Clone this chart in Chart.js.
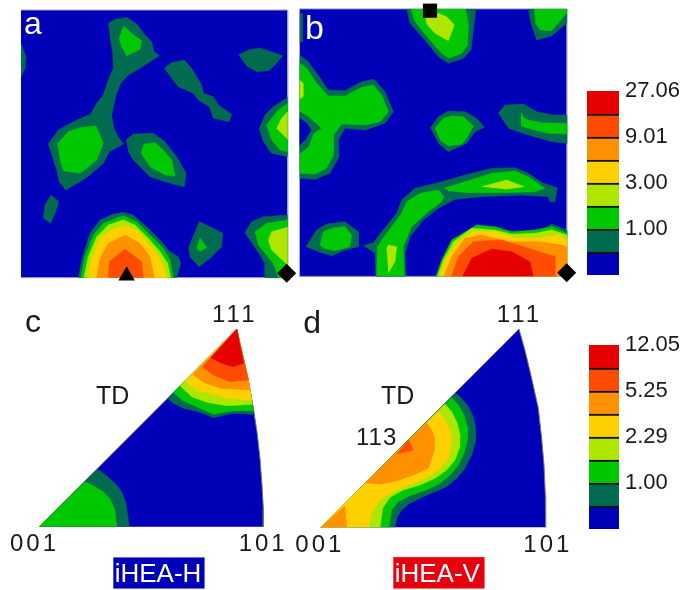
<!DOCTYPE html>
<html>
<head>
<meta charset="utf-8">
<title>iHEA texture maps</title>
<script src="https://cdn.jsdelivr.net/npm/chart.js@4/dist/chart.umd.min.js"></script>
<style>
    body { margin: 0; background: #fff; width: 683px; height: 590px; overflow: hidden; }
    canvas { position: absolute; filter: blur(0.5px); }
    #panelA { left: 0; top: 0; }
    #panelB { left: 295px; top: 0; }
    #panelC { left: 0; top: 295px; }
    #panelD { left: 290px; top: 295px; }
    #barTop { left: 575px; top: 80px; }
    #barBottom { left: 575px; top: 335px; }
</style>
</head>
<body>
<canvas id="panelA" width="300" height="290"></canvas>
<canvas id="panelB" width="290" height="290"></canvas>
<canvas id="panelC" width="290" height="295"></canvas>
<canvas id="panelD" width="290" height="295"></canvas>
<canvas id="barTop" width="108" height="210"></canvas>
<canvas id="barBottom" width="108" height="210"></canvas>
<script>
// colour of each intensity level, lowest first
const BLUE = '#0000b8', DARK = '#006b4f', GREEN = '#00c800', LIME = '#aee600';
const YELLOW = '#ffd000', ORANGE = '#ff9000', REDORANGE = '#ff4c00', RED = '#e60000';
const levelColors = [BLUE, DARK, GREEN, LIME, YELLOW, ORANGE, REDORANGE, RED];

// colour bars
const topBarValues = [1, 1, 1, 1, 1, 1, 1, 1];
const topBarTicks = ['', '', '1.00', '', '3.00', '', '9.01', '', '27.06'];
const bottomBarValues = [1, 1, 1, 1, 1, 1, 1, 1];
const bottomBarTicks = ['', '', '1.00', '', '2.29', '', '5.25', '', '12.05'];

// contour outlines, map units are 1/3 of a pixel
// PANEL A
const aBlue = [[[63,30],[863,30],[863,833],[63,833]]];
const aDark = [
    [[63,130],[78,170],[75,205],[63,232]],
    [[325,70],[345,58],[380,52],[410,72],[435,105],[455,125],[462,155],[478,167],[455,182],[420,205],[385,225],[362,250],[348,285],[335,345],[342,385],[355,410],[370,432],[328,455],[310,490],[270,525],[240,545],[197,570],[178,545],[170,510],[145,432],[175,390],[230,360],[272,343],[290,310],[310,285],[325,240],[340,205],[338,160],[330,110]],
    [[493,205],[515,188],[552,180],[575,205],[605,255],[610,280],[640,290],[655,315],[695,343],[688,365],[640,355],[628,320],[595,300],[580,280],[535,260],[515,235]],
    [[716,165],[745,150],[780,144],[848,167],[825,195],[805,212],[770,215],[740,198]],
    [[130,655],[135,615],[153,585],[176,605],[165,640],[152,670]],
    [[863,292],[820,320],[795,345],[778,385],[790,425],[815,460],[863,470]],
    [[378,420],[400,402],[460,400],[495,425],[530,470],[558,520],[553,560],[510,550],[450,530],[400,480],[385,455]],
    [[235,833],[248,770],[270,700],[300,660],[340,642],[370,637],[400,645],[440,680],[480,720],[510,755],[535,770],[542,790],[530,833]],
    [[863,645],[790,650],[755,665],[735,698],[770,750],[795,790],[795,833],[863,833]],
    [[565,745],[598,665],[640,685],[668,700],[665,740],[630,775],[597,800],[570,770]]
];
const aGreen = [
    [[370,78],[395,100],[425,122],[420,148],[380,167],[365,140],[357,115]],
    [[172,432],[205,395],[245,382],[288,378],[310,430],[290,480],[240,520],[190,512],[178,470]],
    [[863,310],[830,335],[800,375],[815,420],[840,450],[863,455]],
    [[423,460],[432,432],[465,428],[490,450],[515,480],[525,528],[495,525],[450,500]],
    [[243,833],[255,770],[280,705],[310,670],[370,647],[410,665],[450,705],[490,745],[510,780],[520,833]],
    [[863,660],[800,670],[765,695],[775,735],[820,790],[835,833],[863,833]],
    [[590,745],[600,715],[620,742],[600,755]]
];
const aLime = [
    [[863,335],[845,355],[830,385],[863,418]],
    [[252,833],[265,770],[290,710],[325,675],[370,660],[405,675],[445,715],[480,755],[503,790],[512,833]],
    [[863,682],[815,695],[805,720],[815,750],[863,795]]
];
const aYellow = [[[265,833],[275,775],[300,715],[335,690],[375,678],[410,690],[445,730],[475,765],[490,800],[500,833]]];
const aOrange = [[[290,833],[300,775],[325,730],[375,705],[420,730],[450,770],[463,833]]];
const aRedOrange = [[[325,833],[328,785],[375,747],[425,785],[430,833]]];

// PANEL B
const bBlue = [[[14,27],[815,27],[815,829],[14,829]]];
const bDark = [
    [[335,27],[345,70],[385,115],[430,170],[460,190],[505,175],[528,150],[535,90],[543,27]],
    [[700,27],[708,70],[725,120],[770,108],[815,70],[815,27]],
    [[14,40],[22,40],[22,125],[14,128]],
    [[14,165],[40,185],[65,220],[100,270],[150,272],[200,245],[237,238],[270,275],[295,335],[270,370],[210,390],[150,385],[130,420],[132,470],[105,520],[60,538],[14,535]],
    [[406,383],[430,350],[460,333],[510,335],[545,355],[568,382],[540,395],[515,430],[460,455],[430,430]],
    [[610,340],[630,315],[685,312],[725,335],[775,345],[815,345],[815,430],[770,425],[700,405],[640,385]],
    [[205,737],[235,728],[260,695],[305,640],[320,600],[360,565],[440,545],[510,525],[590,505],[660,503],[700,520],[745,550],[787,563],[780,605],[765,605],[760,590],[680,585],[560,590],[480,598],[430,625],[385,660],[345,710],[330,760],[333,829],[243,829],[240,760]],
    [[33,740],[65,690],[95,672],[150,665],[190,695],[190,740],[150,750],[110,767],[70,755]],
    [[740,690],[770,672],[815,690],[815,710],[770,690]]
];
const bGreen = [
    [[348,27],[360,65],[400,115],[440,160],[462,175],[500,160],[518,135],[520,75],[512,27]],
    [[718,27],[722,70],[735,90],[770,92],[815,40],[815,27]],
    [[14,190],[35,205],[65,250],[100,288],[150,288],[200,262],[235,255],[260,285],[280,335],[255,365],[210,375],[140,372],[115,405],[115,465],[95,505],[60,522],[14,520]],
    [[420,385],[445,355],[470,348],[505,350],[535,378],[515,415],[500,433],[460,438],[435,420]],
    [[678,338],[690,358],[740,368],[815,370],[815,402],[760,400],[710,388],[678,378]],
    [[245,829],[247,740],[275,700],[320,640],[335,605],[375,580],[430,570],[447,590],[440,605],[400,635],[350,680],[325,740],[328,829]],
    [[447,565],[510,545],[590,520],[660,513],[700,530],[750,565],[720,575],[620,578],[520,578],[460,572]],
    [[75,735],[85,695],[115,683],[150,680],[170,705],[165,740],[120,752],[85,745]],
    [[423,829],[440,780],[470,720],[520,690],[545,675],[600,680],[650,695],[720,690],[770,680],[815,700],[815,829]]
];
const bHoleDark = [[[14,335],[40,350],[78,385],[55,400],[40,440],[14,460]]];
const bHoleBlue = [[[14,355],[35,370],[48,390],[30,420],[14,435]]];
const bLime = [
    [[392,50],[395,72],[420,100],[460,122],[478,75],[455,50],[430,40]],
    [[14,240],[24,250],[24,290],[14,297]],
    [[560,560],[635,540],[687,560],[630,568]],
    [[275,745],[280,735],[305,740],[300,785],[280,818]],
    [[428,829],[445,780],[475,725],[530,685],[600,690],[650,703],[720,700],[770,690],[815,705],[815,829]]
];
const bYellow = [[[435,829],[450,780],[490,725],[540,695],[600,695],[660,715],[730,715],[790,705],[815,720],[815,829]]];
const bOrange = [[[447,829],[470,770],[510,715],[560,705],[640,725],[730,725],[800,735],[815,740],[815,829]]];
const bRedOrange = [[[470,829],[490,770],[535,725],[620,720],[700,745],[780,770],[780,829]]];
const bRed = [[[503,829],[530,775],[590,747],[650,755],[705,785],[715,829]]];

// PANEL C
const cBlue = [[[118,695],[710,102],[730,190],[745,255],[760,340],[771,410],[780,490],[786,570],[790,640],[790,695]]];
const cDark = [
    [[118,695],[293,522],[320,543],[345,565],[365,590],[378,625],[388,695]],
    [[503,310],[520,325],[550,340],[600,352],[640,368],[700,355],[762,358],[745,255],[730,190],[710,102]]
];
const cGreen = [
    [[118,695],[255,560],[285,575],[310,590],[330,612],[345,645],[350,695]],
    [[520,292],[545,315],[600,340],[640,358],[700,347],[760,347],[745,255],[730,190],[710,102]]
];
const cLime = [[[540,272],[575,305],[620,322],[680,332],[757,328],[745,255],[730,190],[710,102]]];
const cYellow = [[[555,258],[590,285],[630,295],[680,310],[755,315],[745,255],[730,190],[710,102]]];
const cOrange = [[[578,238],[610,262],[660,280],[750,285],[745,255],[730,190],[710,102]]];
const cRedOrange = [[[607,215],[640,240],[690,260],[745,255],[730,190],[710,102]]];
const cRed = [[[632,188],[665,205],[700,215],[731,205],[710,102]]];

// PANEL D
const dBlue = [[[92,697],[687,102],[706,170],[725,250],[745,340],[755,430],[762,510],[766,600],[767,697]]];
const dDark = [[[92,697],[497,295],[515,310],[535,335],[550,365],[557,400],[556,440],[545,480],[525,520],[500,550],[470,575],[430,592],[390,610],[355,628],[335,645],[322,665],[315,697]]];
const dGreen = [[[92,697],[485,308],[505,330],[522,360],[532,395],[532,435],[522,475],[505,510],[480,540],[450,565],[410,585],[360,602],[325,620],[305,645],[297,697]]];
const dLime = [[[92,697],[465,327],[485,350],[502,385],[510,420],[508,460],[495,495],[470,525],[435,550],[390,570],[340,585],[300,607],[278,640],[270,697]]];
const dYellow = [[[92,697],[445,350],[465,375],[480,405],[485,440],[475,490],[450,520],[415,545],[370,565],[320,585],[275,610],[245,650],[235,697]]];
const dOrange = [
    [[225,564],[410,383],[425,405],[435,430],[432,470],[415,520],[370,540],[320,558],[270,568]],
    [[92,697],[165,632],[170,697]]
];
const dRedOrange = [[[355,434],[370,465],[320,477]]];

// name tags under the triangles
const cTag = [[340,788],[612,788],[612,880],[340,880]];
const dTag = [[310,787],[582,787],[582,880],[310,880]];

// pole markers
const aMarkers = [{ x: 380, y: 827, style: 'triangle', size: 9.5 }, { x: 860, y: 820, style: 'rectRot', size: 9.5 }];
const bMarkers = [{ x: 405, y: 32, style: 'rect', size: 10 }, { x: 815, y: 818, style: 'rectRot', size: 9.5 }];

// text on each panel, x and y in map units, y is the baseline
const aLabels = [{ text: 'a', x: 72, y: 102, size: 32, color: '#fff' }];
const bLabels = [{ text: 'b', x: 30, y: 116, size: 34, color: '#fff' }];
const cLabels = [
    { text: 'c', x: 75, y: 112, size: 32 },
    { text: '111', x: 636, y: 80, size: 24, gap: 3 },
    { text: 'TD', x: 288, y: 328, size: 25 },
    { text: '001', x: 30, y: 768, size: 24, gap: 3 },
    { text: '101', x: 716, y: 768, size: 24, gap: 3 },
    { text: 'iHEA-H', x: 344, y: 862, size: 26, color: '#fff' }
];
const dLabels = [
    { text: 'd', x: 40, y: 113, size: 32 },
    { text: '111', x: 620, y: 80, size: 24, gap: 3 },
    { text: 'TD', x: 273, y: 328, size: 25 },
    { text: '113', x: 198, y: 449, size: 24, gap: 1 },
    { text: '001', x: 16, y: 770, size: 24, gap: 3 },
    { text: '101', x: 700, y: 772, size: 24, gap: 3 },
    { text: 'iHEA-V', x: 314, y: 862, size: 26, color: '#fff' }
];

// writes the panel text through the scales of the chart
const panelText = {
    id: 'panelText',
    afterDatasetsDraw(chart, args, opts) {
        const ctx = chart.ctx;
        ctx.save();
        ctx.textBaseline = 'alphabetic';
        opts.items.forEach(item => {
            ctx.font = item.size + 'px "Liberation Sans", Arial, sans-serif';
            ctx.letterSpacing = (item.gap || 0) + 'px';
            ctx.fillStyle = item.color || '#1a1a1a';
            ctx.fillText(item.text, chart.scales.x.getPixelForValue(item.x), chart.scales.y.getPixelForValue(item.y));
        });
        ctx.restore();
    }
};

function toPoints(outline) {
    return outline.map(p => ({ x: p[0], y: p[1] }));
}

// one filled dataset for every outline, in the order the layers are given
function makeLayers(layers) {
    const datasets = [];
    layers.forEach(layer => {
        layer.outlines.forEach(outline => {
            datasets.push({
                data: toPoints(outline),
                showLine: true,
                fill: 'shape',
                backgroundColor: layer.color,
                borderColor: layer.edge || layer.color,
                borderWidth: layer.edge ? 1 : 0.5,
                pointRadius: 0,
                tension: 0
            });
        });
    });
    return datasets;
}

function markerDataset(markers) {
    return {
        data: markers.map(m => ({ x: m.x, y: m.y })),
        showLine: false,
        pointStyle: markers.map(m => m.style),
        pointRadius: markers.map(m => m.size),
        pointBackgroundColor: '#000',
        pointBorderWidth: 0,
        clip: false
    };
}

function drawPanel(id, layers, markers, labels) {
    const canvas = document.getElementById(id);
    const datasets = makeLayers(layers);
    if (markers) datasets.push(markerDataset(markers));
    // chart.js paints the lowest order last, so the last layer has to get the lowest
    datasets.forEach((d, i) => { d.order = datasets.length - i; });
    new Chart(canvas, {
        type: 'scatter',
        data: { datasets: datasets },
        options: {
            responsive: false,
            animation: false,
            layout: { padding: 0, autoPadding: false },
            scales: {
                x: { type: 'linear', display: false, min: 0, max: canvas.width * 3 },
                y: { type: 'linear', display: false, min: 0, max: canvas.height * 3, reverse: true }
            },
            plugins: {
                legend: { display: false },
                tooltip: { enabled: false },
                panelText: { items: labels }
            }
        },
        plugins: [panelText]
    });
}

// the colour bars are stacked bars with their labels on a right hand axis
function drawBar(id, values, ticks, padLeft, padTop, padBottom) {
    new Chart(document.getElementById(id), {
        type: 'bar',
        data: {
            labels: [''],
            datasets: values.map((v, i) => ({
                data: [v],
                backgroundColor: levelColors[i],
                borderColor: '#111',
                borderWidth: { top: i < values.length - 1 ? 2 : 0 },
                borderSkipped: false,
                barPercentage: 1,
                categoryPercentage: 1
            }))
        },
        options: {
            responsive: false,
            animation: false,
            layout: { padding: { left: padLeft, top: padTop, bottom: padBottom, right: 0 }, autoPadding: false },
            scales: {
                x: { display: false, stacked: true },
                y: {
                    stacked: true,
                    position: 'right',
                    min: 0,
                    max: values.length,
                    // no room kept for the half labels, the bar runs the full height
                    afterFit: scale => {
                        scale.width = 64;
                        scale.paddingTop = 0;
                        scale.paddingBottom = 0;
                    },
                    grid: { display: false, drawTicks: false },
                    border: { display: false },
                    ticks: {
                        stepSize: 1,
                        autoSkip: false,
                        padding: 6,
                        color: '#1a1a1a',
                        font: { size: 22, family: '"Liberation Sans", Arial, sans-serif' },
                        callback: value => ticks[value]
                    }
                }
            },
            plugins: { legend: { display: false }, tooltip: { enabled: false } }
        }
    });
}

drawPanel('panelA', [
    { color: BLUE, outlines: aBlue, edge: '#a0a0c0' },
    { color: DARK, outlines: aDark },
    { color: GREEN, outlines: aGreen },
    { color: LIME, outlines: aLime },
    { color: YELLOW, outlines: aYellow },
    { color: ORANGE, outlines: aOrange },
    { color: REDORANGE, outlines: aRedOrange }
], aMarkers, aLabels);

drawPanel('panelB', [
    { color: BLUE, outlines: bBlue, edge: '#8080c0' },
    { color: DARK, outlines: bDark },
    { color: GREEN, outlines: bGreen },
    { color: DARK, outlines: bHoleDark },
    { color: BLUE, outlines: bHoleBlue },
    { color: LIME, outlines: bLime },
    { color: YELLOW, outlines: bYellow },
    { color: ORANGE, outlines: bOrange },
    { color: REDORANGE, outlines: bRedOrange },
    { color: RED, outlines: bRed }
], bMarkers, bLabels);

drawPanel('panelC', [
    { color: BLUE, outlines: cBlue, edge: '#777' },
    { color: DARK, outlines: cDark },
    { color: GREEN, outlines: cGreen },
    { color: LIME, outlines: cLime },
    { color: YELLOW, outlines: cYellow },
    { color: ORANGE, outlines: cOrange },
    { color: REDORANGE, outlines: cRedOrange },
    { color: RED, outlines: cRed },
    { color: BLUE, outlines: [cTag] }
], null, cLabels);

drawPanel('panelD', [
    { color: BLUE, outlines: dBlue, edge: '#777' },
    { color: DARK, outlines: dDark },
    { color: GREEN, outlines: dGreen },
    { color: LIME, outlines: dLime },
    { color: YELLOW, outlines: dYellow },
    { color: ORANGE, outlines: dOrange },
    { color: REDORANGE, outlines: dRedOrange },
    { color: '#e8000f', outlines: [dTag] }
], null, dLabels);

drawBar('barTop', topBarValues, topBarTicks, 12, 11, 15);
drawBar('barBottom', bottomBarValues, bottomBarTicks, 14, 10, 16);
</script>
</body>
</html>
